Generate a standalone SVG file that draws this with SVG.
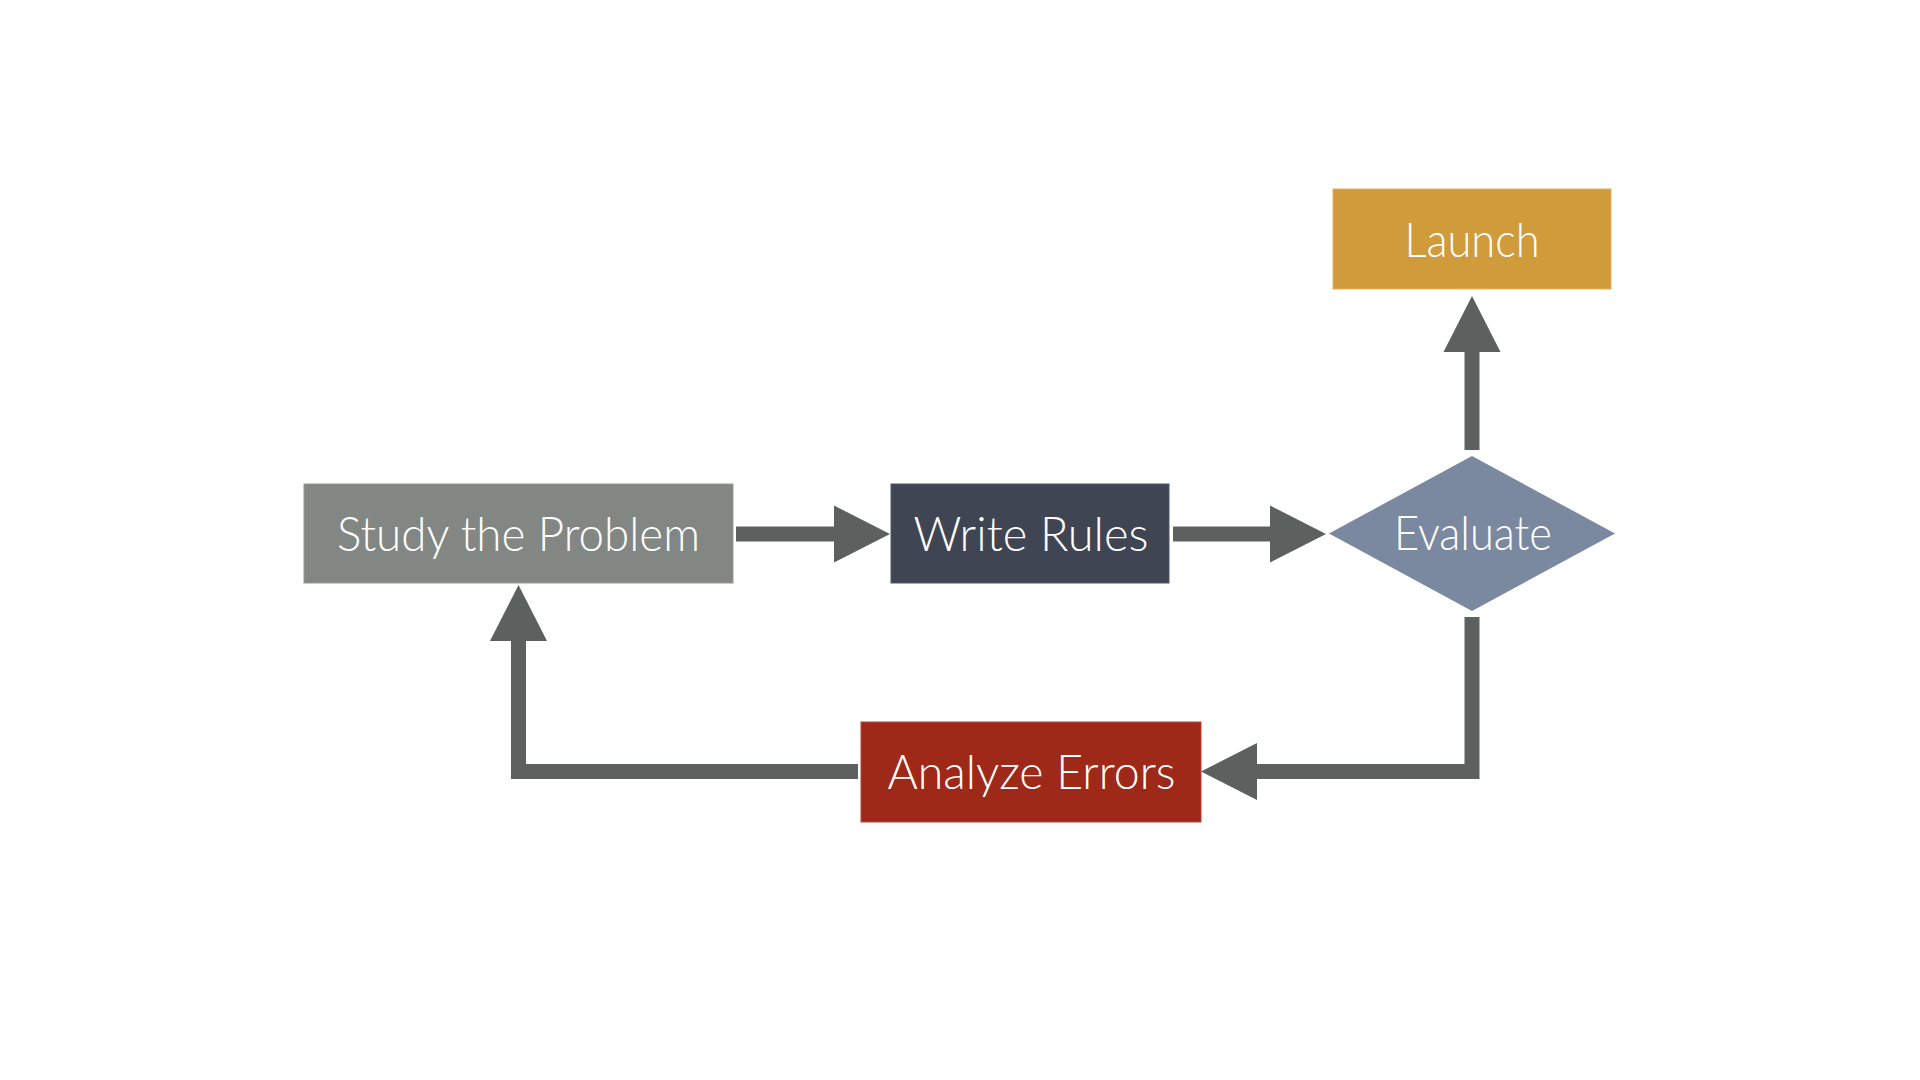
<svg xmlns="http://www.w3.org/2000/svg" width="1920" height="1080" viewBox="0 0 1920 1080">
  <style>
    .lbl { font-family: Lato, "Open Sans", "Liberation Sans", sans-serif; font-weight: 300; font-size: 48px; fill: #ffffff; text-anchor: middle; }
    .conn { fill: none; stroke: #5c605e; stroke-width: 15; stroke-linejoin: miter; stroke-linecap: butt; }
  </style>
  <defs>
    <marker id="head" markerUnits="userSpaceOnUse" markerWidth="56" markerHeight="57" refX="0" refY="28.5" orient="auto" overflow="visible">
      <path d="M0,0 L56,28.5 L0,57 Z" fill="#5c605e"/>
    </marker>
  </defs>
  <rect width="1920" height="1080" fill="#ffffff"/>

  <g id="connectors">
    <line class="conn" x1="736" y1="534" x2="834" y2="534" marker-end="url(#head)"/>
    <line class="conn" x1="1173" y1="534" x2="1270" y2="534" marker-end="url(#head)"/>
    <line class="conn" x1="1472" y1="450" x2="1472" y2="352" marker-end="url(#head)"/>
    <polyline class="conn" points="1472,617 1472,771.5 1257,771.5" marker-end="url(#head)"/>
    <polyline class="conn" points="858,771.5 518.5,771.5 518.5,641" marker-end="url(#head)"/>
  </g>

  <g id="study">
    <rect x="304" y="484" width="429" height="99" fill="#828784" stroke="#959996" stroke-width="1"/>
    <text class="lbl" x="518.5" y="550.5" textLength="363" lengthAdjust="spacingAndGlyphs">Study the Problem</text>
  </g>
  <g id="write">
    <rect x="891" y="484" width="278" height="99" fill="#3f4553" stroke="#525866" stroke-width="1"/>
    <text class="lbl" x="1031" y="550.5" textLength="235" lengthAdjust="spacingAndGlyphs">Write Rules</text>
  </g>
  <g id="evaluate">
    <polygon points="1472,456 1615,533.5 1472,611 1329,533.5" fill="#7b89a0"/>
    <text class="lbl" x="1473" y="549.5" textLength="158" lengthAdjust="spacingAndGlyphs">Evaluate</text>
  </g>
  <g id="launch">
    <rect x="1333" y="189" width="278" height="100" fill="#d09b3b" stroke="#e0b35c" stroke-width="1"/>
    <text class="lbl" x="1472" y="256.5" textLength="135" lengthAdjust="spacingAndGlyphs">Launch</text>
  </g>
  <g id="analyze">
    <rect x="861" y="722" width="340" height="100" fill="#9e2918" stroke="#b8473a" stroke-width="1"/>
    <text class="lbl" x="1031.5" y="789" textLength="288" lengthAdjust="spacingAndGlyphs">Analyze Errors</text>
  </g>
</svg>
